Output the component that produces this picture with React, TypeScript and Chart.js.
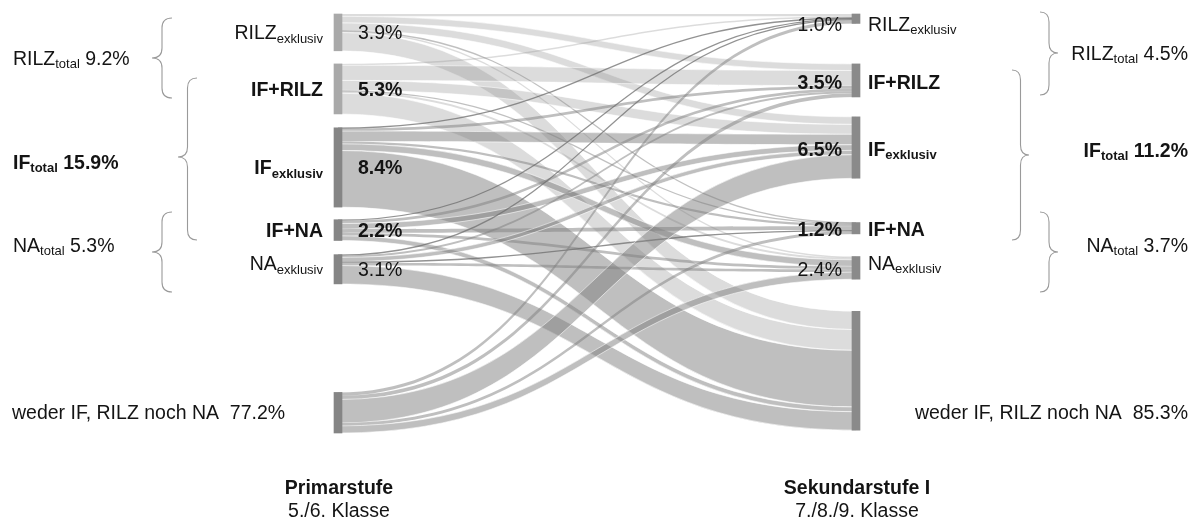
import React, { useEffect, useRef } from 'react';
import { Chart, registerables } from 'chart.js';

Chart.register(...registerables);

// ---------------- data ----------------
const nodeNames = ['RILZ', 'IF+RILZ', 'IF', 'IF+NA', 'NA', 'weder IF, RILZ noch NA'];
const nodeSubs = ['exklusiv', '', 'exklusiv', '', 'exklusiv', ''];
const primarShares = [3.9, 5.3, 8.4, 2.2, 3.1, 77.2];
const sekundarShares = [1.0, 3.5, 6.5, 1.2, 2.4, 85.3];
const totalNames = ['RILZ', 'IF', 'NA'];
const primarTotals = [9.2, 15.9, 5.3];
const sekundarTotals = [4.5, 11.2, 3.7];
const stageTitles = ['Primarstufe', 'Sekundarstufe I'];
const stageGrades = ['5./6. Klasse', '7./8./9. Klasse'];

// transitions (percent of pupils) from a Primarstufe group (row) to the
// Sekundarstufe groups RILZ, IF+RILZ, IF, IF+NA, NA, weder (columns);
// weder -> weder is not drawn
const flowFromRILZ = [0.25, 0.7, 0.8, 0.05, 0.15, 1.95];
const flowFromIFRILZ = [0.15, 1.6, 1.05, 0.1, 0.2, 2.2];
const flowFromIF = [0.05, 0.3, 1.1, 0.25, 0.7, 6.0];
const flowFromIFNA = [0.1, 0.3, 0.6, 0.4, 0.3, 0.5];
const flowFromNA = [0.1, 0.2, 0.45, 0.1, 0.3, 1.95];
const flowFromWeder = [0.35, 0.4, 2.5, 0.3, 0.75, 0];
const flowRows = [flowFromRILZ, flowFromIFRILZ, flowFromIF, flowFromIFNA, flowFromNA, flowFromWeder];

// ---------------- layout / style ----------------
const primarGaps = [0, 1.39, 1.47, 1.34, 1.5, 11.5];
const sekundarGaps = [0, 4.29, 2.11, 4.7, 2.4, 3.4];
const Y_MAX = 44.4;
const boldNode = [false, true, true, true, false, false];
const leftLabelShift = [0, 0, 0, 0, -6, 0];
const rightLabelShift = [5, 2, 1, 1, -5, 0];
const rightValueShift = [5, 2, 1, 1, 1, 0];

const FONT = '"Liberation Sans", Arial, Helvetica, sans-serif';
const MAIN = 19.5;
const SUB = 13;
const TEXT = '#141414';

const sum = (a: number[]) => a.reduce((s, v) => s + v, 0);
const leftHeights = flowRows.map((r) => sum(r));
const rightHeights = nodeNames.map((_, j) => sum(flowRows.map((r) => r[j])));
function stack(heights: number[], gaps: number[]) {
  const tops: number[] = [];
  let y = 0;
  heights.forEach((h, i) => {
    y += gaps[i];
    tops.push(y);
    y += h;
  });
  return tops;
}
const leftTops = stack(leftHeights, primarGaps);
const rightTops = stack(rightHeights, sekundarGaps);

const fmt = (v: number) => v.toFixed(1) + '%';

type Part = { t: string; b?: boolean; sub?: boolean };

function font(bold: boolean, size: number) {
  return `${bold ? 'bold ' : ''}${size}px ${FONT}`;
}

function drawRich(ctx: CanvasRenderingContext2D, parts: Part[], x: number, yc: number, align: 'left' | 'right' | 'center') {
  ctx.save();
  ctx.textBaseline = 'alphabetic';
  ctx.textAlign = 'left';
  ctx.fillStyle = TEXT;
  const widths = parts.map((p) => {
    ctx.font = font(!!p.b, p.sub ? SUB : MAIN);
    return ctx.measureText(p.t).width;
  });
  const total = sum(widths);
  let cx = align === 'left' ? x : align === 'right' ? x - total : x - total / 2;
  const base = yc + MAIN * 0.358;
  parts.forEach((p, i) => {
    ctx.font = font(!!p.b, p.sub ? SUB : MAIN);
    ctx.fillText(p.t, cx, p.sub ? base + 3.5 : base);
    cx += widths[i];
  });
  ctx.restore();
}

function brace(ctx: CanvasRenderingContext2D, xBack: number, xTip: number, yTop: number, yBot: number, yTip: number) {
  const xs = (xBack + xTip) / 2;
  const r = 10;
  ctx.beginPath();
  ctx.moveTo(xBack, yTop);
  ctx.quadraticCurveTo(xs, yTop, xs, yTop + r);
  ctx.lineTo(xs, yTip - r);
  ctx.quadraticCurveTo(xs, yTip, xTip, yTip);
  ctx.quadraticCurveTo(xs, yTip, xs, yTip + r);
  ctx.lineTo(xs, yBot - r);
  ctx.quadraticCurveTo(xs, yBot, xBack, yBot);
  ctx.stroke();
}

const flowPlugin = {
  id: 'sankeyFlows',
  beforeDatasetsDraw(chart: any) {
    const { ctx } = chart;
    const xs = chart.scales.x;
    const ys = chart.scales.y;
    const x0 = xs.getPixelForValue(0);
    const x1 = xs.getPixelForValue(1);
    const xm = (x0 + x1) / 2;
    const outOff = leftTops.slice();
    const inOff = rightTops.slice();
    ctx.save();
    flowRows.forEach((row, s) => {
      row.forEach((v, t) => {
        if (v <= 0) return;
        const a = ys.getPixelForValue(outOff[s]);
        const b = ys.getPixelForValue(outOff[s] + v);
        const c = ys.getPixelForValue(inOff[t]);
        const d = ys.getPixelForValue(inOff[t] + v);
        outOff[s] += v;
        inOff[t] += v;
        const light = s < 2;
        const h = b - a;
        if (h < 1.3) {
          const m0 = (a + b) / 2;
          const m1 = (c + d) / 2;
          ctx.beginPath();
          ctx.moveTo(x0, m0);
          ctx.bezierCurveTo(xm, m0, xm, m1, x1, m1);
          ctx.lineWidth = 1.3;
          ctx.strokeStyle = light ? 'rgba(140,140,140,0.55)' : 'rgba(110,110,110,0.75)';
          ctx.stroke();
          return;
        }
        ctx.beginPath();
        ctx.moveTo(x0, a);
        ctx.bezierCurveTo(xm, a, xm, c, x1, c);
        ctx.lineTo(x1, d);
        ctx.bezierCurveTo(xm, d, xm, b, x0, b);
        ctx.closePath();
        ctx.fillStyle = light ? 'rgba(150,150,150,0.33)' : 'rgba(128,128,128,0.5)';
        ctx.fill();
        if (h > 4) {
          ctx.lineWidth = 0.7;
          ctx.strokeStyle = 'rgba(255,255,255,0.8)';
          ctx.beginPath();
          ctx.moveTo(x0, a);
          ctx.bezierCurveTo(xm, a, xm, c, x1, c);
          ctx.moveTo(x0, b);
          ctx.bezierCurveTo(xm, b, xm, d, x1, d);
          ctx.stroke();
        }
      });
    });
    ctx.restore();
  },
};

const textPlugin = {
  id: 'sankeyText',
  afterDraw(chart: any) {
    const { ctx } = chart;
    const ys = chart.scales.y;
    const center = (tops: number[], hs: number[], i: number) => ys.getPixelForValue(tops[i] + hs[i] / 2);

    // node labels and values
    for (let i = 0; i < 5; i++) {
      const bold = boldNode[i];
      const lab: Part[] = [{ t: nodeNames[i], b: bold }];
      if (nodeSubs[i]) lab.push({ t: nodeSubs[i], b: bold, sub: true });
      const yl = center(leftTops, leftHeights, i);
      const yr = center(rightTops, rightHeights, i);
      drawRich(ctx, lab, 323, yl + leftLabelShift[i], 'right');
      drawRich(ctx, [{ t: fmt(primarShares[i]), b: bold }], 358, yl, 'left');
      drawRich(ctx, [{ t: fmt(sekundarShares[i]), b: bold }], 842, yr + rightValueShift[i], 'right');
      drawRich(ctx, lab, 868, yr + rightLabelShift[i], 'left');
    }
    // weder
    drawRich(ctx, [{ t: nodeNames[5] + '\u00a0\u00a0' + fmt(primarShares[5]) }], 12, 412, 'left');
    drawRich(ctx, [{ t: nodeNames[5] + '\u00a0\u00a0' + fmt(sekundarShares[5]) }], 1188, 412, 'right');

    // totals
    const leftTotY = [58, 162, 245];
    const rightTotY = [53, 150, 245];
    totalNames.forEach((n, i) => {
      const b = n === 'IF';
      drawRich(ctx, [{ t: n, b }, { t: 'total', b, sub: true }, { t: '\u00a0' + fmt(primarTotals[i]), b }], 13, leftTotY[i], 'left');
      drawRich(ctx, [{ t: n, b }, { t: 'total', b, sub: true }, { t: '\u00a0' + fmt(sekundarTotals[i]), b }], 1188, rightTotY[i], 'right');
    });

    // braces
    ctx.save();
    ctx.strokeStyle = '#9a9a9a';
    ctx.lineWidth = 1.1;
    brace(ctx, 172, 152, 18, 98, 58);
    brace(ctx, 197, 178, 78, 240, 157);
    brace(ctx, 172, 152, 212, 292, 252);
    brace(ctx, 1040, 1058, 12, 95, 53);
    brace(ctx, 1012, 1029, 70, 240, 155);
    brace(ctx, 1040, 1058, 212, 292, 252);
    ctx.restore();

    // stage captions
    const xl = chart.scales.x.getPixelForValue(0);
    const xr = chart.scales.x.getPixelForValue(1);
    drawRich(ctx, [{ t: stageTitles[0], b: true }], xl + 1, 487, 'center');
    drawRich(ctx, [{ t: stageGrades[0] }], xl + 1, 510, 'center');
    drawRich(ctx, [{ t: stageTitles[1], b: true }], xr + 1, 487, 'center');
    drawRich(ctx, [{ t: stageGrades[1] }], xr + 1, 510, 'center');
  },
};

export default function App() {
  const ref = useRef<HTMLCanvasElement>(null);
  useEffect(() => {
    const barData = [
      ...leftTops.map((t, i) => ({ x: 0, y: [t, t + leftHeights[i]] })),
      ...rightTops.map((t, i) => ({ x: 1, y: [t, t + rightHeights[i]] })),
    ];
    const barColors = [
      ...leftHeights.map((_, i) => (i < 2 ? '#a9a9a9' : '#858585')),
      ...rightHeights.map(() => '#8a8a8a'),
    ];
    const chart = new Chart(ref.current as HTMLCanvasElement, {
      type: 'bar',
      data: {
        datasets: [
          {
            data: barData as any,
            backgroundColor: barColors,
            borderWidth: 0,
            barThickness: 8,
            clip: false as any,
          },
        ],
      },
      options: {
        animation: false,
        responsive: true,
        maintainAspectRatio: false,
        layout: { padding: { left: 338, right: 334, top: 14, bottom: 84 } },
        scales: {
          x: { type: 'linear', min: 0, max: 1, display: false, offset: false },
          y: { type: 'linear', min: 0, max: Y_MAX, reverse: true, display: false },
        },
        plugins: { legend: { display: false }, tooltip: { enabled: false } },
      },
      plugins: [flowPlugin, textPlugin],
    });
    return () => chart.destroy();
  }, []);
  return (
    <div style={{ position: 'fixed', left: 0, top: 0, width: 1190, height: 517, background: '#fff' }}>
      <canvas ref={ref} />
    </div>
  );
}
